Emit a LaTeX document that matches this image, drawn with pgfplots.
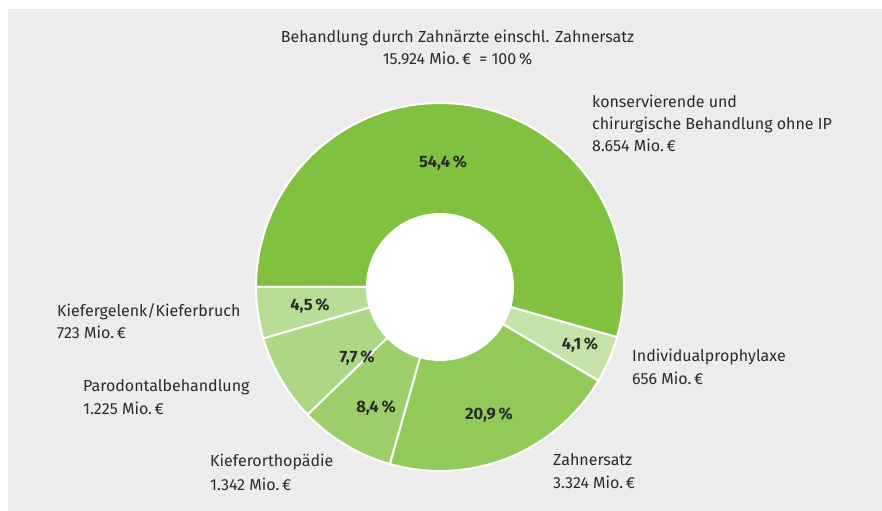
\documentclass[border=0pt]{standalone}
\usepackage{pgfplots}
\pgfplotsset{compat=1.18}
\usepackage{fontspec}
\setmainfont{Fira Sans}
\definecolor{bg}{HTML}{ECECEC}
\definecolor{txt}{HTML}{2B2B2B}
\definecolor{cA}{HTML}{80C140}
\definecolor{cB}{HTML}{C5E2A8}
\definecolor{cC}{HTML}{92CA5A}
\definecolor{cD}{HTML}{9ECE6A}
\definecolor{cE}{HTML}{ADD785}
\definecolor{cF}{HTML}{B9DD96}
\tikzset{lbl/.style={font=\fontsize{16bp}{19bp}\selectfont, text=txt, inner sep=0pt},
  pct/.style={font=\fontsize{16.5bp}{19bp}\selectfont\bfseries, text=txt, inner sep=0pt}}
\begin{document}
\begin{tikzpicture}
\begin{axis}[scale only axis, width=882bp, height=511bp,
  xmin=0, xmax=882, ymin=-511, ymax=0, axis lines=none, ticks=none, clip=false]
\addplot[fill=white, draw=none] coordinates {(0,0) (882,0) (882,-511) (0,-511)} -- cycle;
\addplot[fill=bg, draw=none] coordinates {(8,-9) (882,-9) (882,-511) (8,-511)} -- cycle;
% shares (%): 54.4, 4.1, 20.9, 8.4, 7.7, 4.5 ; clockwise from 180 deg, 3.6 deg per percent
\addplot[fill=cA, draw=white, line width=2bp, domain=-15.84:180, samples=150] ({440+184*cos(x)},{-287+184*sin(x)}) -- (axis cs:440,-287) -- cycle;
\addplot[fill=cB, draw=white, line width=2bp, domain=-30.6:-15.84, samples=20] ({440+184*cos(x)},{-287+184*sin(x)}) -- (axis cs:440,-287) -- cycle;
\addplot[fill=cC, draw=white, line width=2bp, domain=-105.84:-30.6, samples=60] ({440+184*cos(x)},{-287+184*sin(x)}) -- (axis cs:440,-287) -- cycle;
\addplot[fill=cD, draw=white, line width=2bp, domain=-136.08:-105.84, samples=30] ({440+184*cos(x)},{-287+184*sin(x)}) -- (axis cs:440,-287) -- cycle;
\addplot[fill=cE, draw=white, line width=2bp, domain=-163.8:-136.08, samples=30] ({440+184*cos(x)},{-287+184*sin(x)}) -- (axis cs:440,-287) -- cycle;
\addplot[fill=cF, draw=white, line width=2bp, domain=-180:-163.8, samples=20] ({440+184*cos(x)},{-287+184*sin(x)}) -- (axis cs:440,-287) -- cycle;
\addplot[fill=white, draw=none, domain=0:360, samples=120] ({440+74*cos(x)},{-287+74*sin(x)}) -- cycle;
% title
\node[lbl, anchor=base] at (axis cs:457.5,-42.5) {Behandlung durch Zahnärzte einschl. Zahnersatz};
\node[lbl, anchor=base] at (axis cs:457.5,-64.5) {15.924 Mio.\,€\enspace= 100\,\%};
% outside labels
\node[lbl, anchor=base west] at (axis cs:592,-108) {konservierende und};
\node[lbl, anchor=base west] at (axis cs:592,-130) {chirurgische Behandlung ohne IP};
\node[lbl, anchor=base west] at (axis cs:592,-152) {8.654 Mio.\,€};
\node[lbl, anchor=base west] at (axis cs:632,-362) {Individualprophylaxe};
\node[lbl, anchor=base west] at (axis cs:632,-385) {656 Mio.\,€};
\node[lbl, anchor=base west] at (axis cs:553,-466) {Zahnersatz};
\node[lbl, anchor=base west] at (axis cs:553,-488) {3.324 Mio.\,€};
\node[lbl, anchor=base west] at (axis cs:210,-467) {Kieferorthopädie};
\node[lbl, anchor=base west] at (axis cs:210,-490) {1.342 Mio.\,€};
\node[lbl, anchor=base west] at (axis cs:83,-392) {Parodontalbehandlung};
\node[lbl, anchor=base west] at (axis cs:83,-415) {1.225 Mio.\,€};
\node[lbl, anchor=base west] at (axis cs:57,-317) {Kiefergelenk/Kieferbruch};
\node[lbl, anchor=base west] at (axis cs:57,-339) {723 Mio.\,€};
% percentages
\node[pct] at (axis cs:443,-163) {54,4\,\%};
\node[pct] at (axis cs:580,-345) {4,1\,\%};
\node[pct] at (axis cs:489,-415) {20,9\,\%};
\node[pct] at (axis cs:376,-408) {8,4\,\%};
\node[pct] at (axis cs:357,-358) {7,7\,\%};
\node[pct] at (axis cs:310,-306) {4,5\,\%};
\end{axis}
\end{tikzpicture}
\end{document}
